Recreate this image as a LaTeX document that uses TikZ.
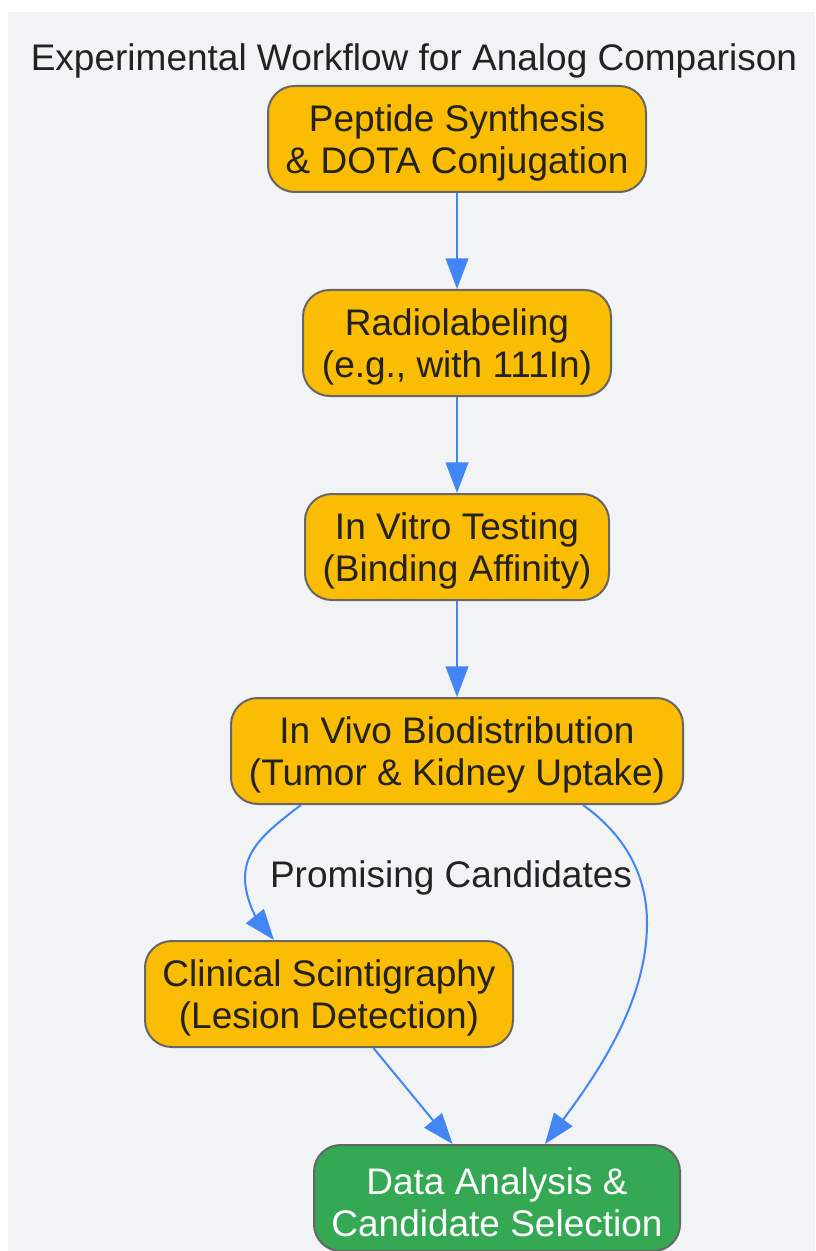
\documentclass[tikz,border=0pt]{standalone}
\usepackage{fontspec}
\setmainfont{Liberation Sans}
\usetikzlibrary{arrows.meta,calc}
\definecolor{bg}{HTML}{F1F3F4}
\definecolor{boxfill}{HTML}{FBBC04}
\definecolor{greenfill}{HTML}{34A853}
\definecolor{boxline}{HTML}{666666}
\definecolor{edgecol}{HTML}{4285F4}
\definecolor{txt}{HTML}{222222}
\tikzset{
  box/.style={draw=boxline, line width=1.5pt, rounded corners=20pt, fill=boxfill,
    inner sep=0pt, minimum height=106*0.75pt},
  greenbox/.style={box, fill=greenfill},
  boxtext/.style={text=txt, align=center, font=\fontsize{27.75}{31.5}\selectfont, inner sep=0pt, yshift=-3pt},
  whitetext/.style={boxtext, text=white},
  edge/.style={draw=edgecol, line width=1.5pt, -{Triangle[length=23pt,width=17pt]}},
  lbl/.style={text=txt, font=\fontsize{27.75}{31.5}\selectfont, inner sep=0pt}
}
\begin{document}
\begin{tikzpicture}[x=0.75pt,y=-0.75pt]
\useasboundingbox (0,0) rectangle (815,1251);
\fill[bg] (8,12) rectangle (815,1251);
\node[lbl, yshift=-3pt] (title) at (414,57) {Experimental Workflow for Analog Comparison};
\node[box, minimum width=378*0.75pt, label={[boxtext]center:{Peptide Synthesis\\\& DOTA Conjugation}}] (n1) at (457,139) {};
\node[box, minimum width=308*0.75pt, label={[boxtext]center:{Radiolabeling\\(e.g., with 111In)}}] (n2) at (457,343) {};
\node[box, minimum width=304*0.75pt, label={[boxtext]center:{In Vitro Testing\\(Binding Affinity)}}] (n3) at (457,547) {};
\node[box, minimum width=452*0.75pt, label={[boxtext]center:{In Vivo Biodistribution\\(Tumor \& Kidney Uptake)}}] (n4) at (457,751) {};
\node[box, minimum width=368*0.75pt, label={[boxtext]center:{Clinical Scintigraphy\\(Lesion Detection)}}] (n5) at (329,994) {};
\node[greenbox, minimum width=366*0.75pt, label={[whitetext]center:{Data Analysis \&\\Candidate Selection}}] (n6) at (497,1198) {};
\draw[edge] (n1) -- (n2);
\draw[edge] (n2) -- (n3);
\draw[edge] (n3) -- (n4);
\draw[edge] ($(n4.south)+(-156,0)$) .. controls (265,832) and (245,850) .. (245,878)
   .. controls (245,900) and (258,920) .. ($(n5.north)+(-55,0)$);
\node[lbl, yshift=-2pt] (plabel) at (451,875) {Promising Candidates};
\draw[edge] ($(n4.south)+(126,0)$) .. controls (625,835) and (647,875) .. (647,923)
   .. controls (647,1000) and (600,1070) .. ($(n6.north)+(48,0)$);
\draw[edge] (n5) -- (n6);
\end{tikzpicture}
\end{document}
